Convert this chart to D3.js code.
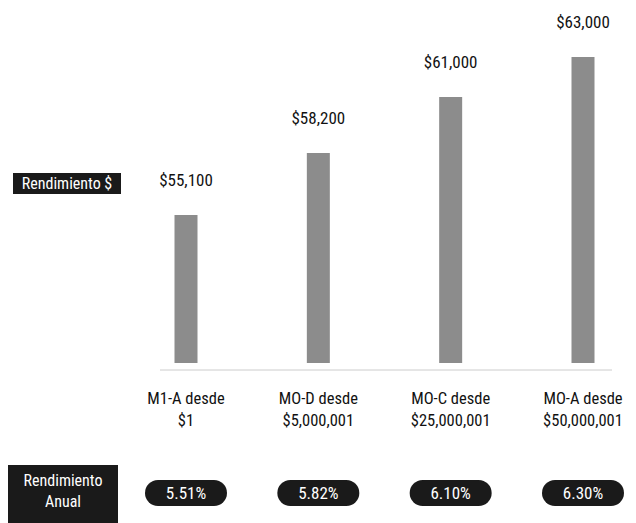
<!DOCTYPE html>
<html>
<head>
<meta charset="utf-8">
<script src="https://cdn.jsdelivr.net/npm/d3@7"></script>
<style>
  body { margin: 0; background: #fff; }
  text { font-family: "Liberation Sans Narrow", "Roboto Condensed", "Liberation Sans", sans-serif; }
</style>
</head>
<body>
<div id="chart"></div>
<script>
// tiers and values
var tiers = ["M1-A desde", "MO-D desde", "MO-C desde", "MO-A desde"];
var tierFrom = ["$1", "$5,000,001", "$25,000,001", "$50,000,001"];
var returns = [55100, 58200, 61000, 63000];
var rates = ["5.51%", "5.82%", "6.10%", "6.30%"];

var width = 636, height = 523;
var baseY = 363;

var svg = d3.select("#chart").append("svg")
  .attr("width", width)
  .attr("height", height);

var x = d3.scalePoint().domain(tiers).range([186, 583]);
var y = d3.scaleLinear().domain([47700, 63000]).range([baseY, 57]);
var barW = 23;
var fmt = d3.format("$,");

// bars
svg.selectAll("rect.bar")
  .data(tiers)
  .enter().append("rect")
  .attr("class", "bar")
  .attr("x", function (d) { return x(d) - barW / 2; })
  .attr("y", function (d, i) { return y(returns[i]); })
  .attr("width", barW)
  .attr("height", function (d, i) { return baseY - y(returns[i]); })
  .attr("fill", "#8c8c8c");

// value labels
svg.selectAll("text.val")
  .data(tiers)
  .enter().append("text")
  .attr("class", "val")
  .attr("x", function (d) { return x(d); })
  .attr("y", function (d, i) { return y(returns[i]) - 29; })
  .attr("text-anchor", "middle")
  .attr("font-size", 17)
  .attr("fill", "#111")
  .text(function (d, i) { return fmt(returns[i]); });

// baseline
svg.append("line")
  .attr("x1", 160).attr("x2", 612)
  .attr("y1", 370).attr("y2", 370)
  .attr("stroke", "#ccc")
  .attr("stroke-width", 1);

// category labels
var cat = svg.selectAll("g.cat")
  .data(tiers)
  .enter().append("g")
  .attr("class", "cat")
  .attr("transform", function (d) { return "translate(" + x(d) + ",0)"; });

cat.append("text")
  .attr("y", 404)
  .attr("text-anchor", "middle")
  .attr("font-size", 16.5)
  .attr("fill", "#111")
  .text(function (d) { return d; });

cat.append("text")
  .attr("y", 426)
  .attr("text-anchor", "middle")
  .attr("font-size", 16.5)
  .attr("fill", "#111")
  .text(function (d, i) { return tierFrom[i]; });

// rate pills
cat.append("rect")
  .attr("x", -41).attr("y", 480)
  .attr("width", 82).attr("height", 26)
  .attr("rx", 13)
  .attr("fill", "#1a1a1a");

cat.append("text")
  .attr("y", 499)
  .attr("text-anchor", "middle")
  .attr("font-size", 17)
  .attr("fill", "#fff")
  .text(function (d, i) { return rates[i]; });

// left labels
svg.append("rect")
  .attr("x", 13).attr("y", 173)
  .attr("width", 108).attr("height", 21)
  .attr("fill", "#1a1a1a");
svg.append("text")
  .attr("x", 67).attr("y", 189)
  .attr("text-anchor", "middle")
  .attr("font-size", 16)
  .attr("fill", "#fff")
  .text("Rendimiento $");

svg.append("rect")
  .attr("x", 8).attr("y", 465)
  .attr("width", 110).attr("height", 58)
  .attr("fill", "#1a1a1a");
svg.append("text")
  .attr("x", 63).attr("y", 486)
  .attr("text-anchor", "middle")
  .attr("font-size", 16)
  .attr("fill", "#fff")
  .text("Rendimiento");
svg.append("text")
  .attr("x", 63).attr("y", 507)
  .attr("text-anchor", "middle")
  .attr("font-size", 16)
  .attr("fill", "#fff")
  .text("Anual");
</script>
</body>
</html>
